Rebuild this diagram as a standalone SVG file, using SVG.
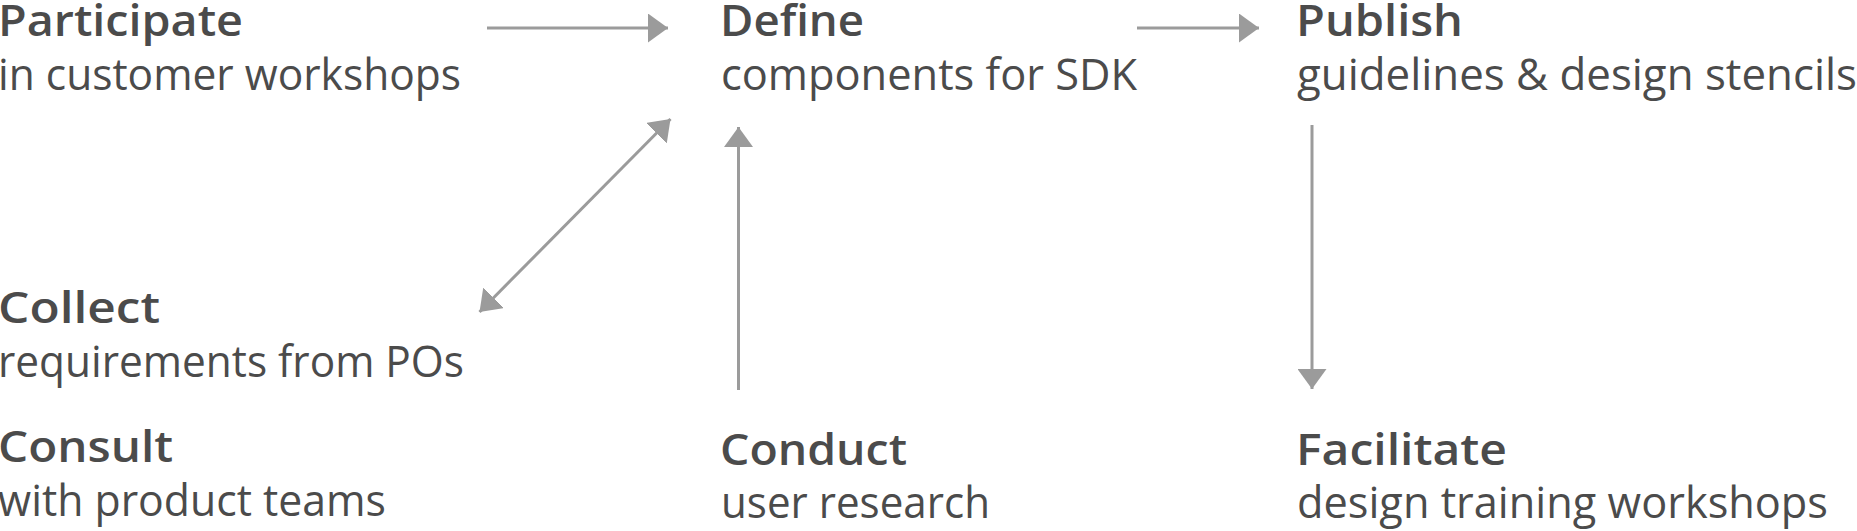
<svg xmlns="http://www.w3.org/2000/svg" width="1857" height="531" viewBox="0 0 1857 531">
<style>
.t{font-family:"Open Sans","Noto Sans","DejaVu Sans",sans-serif;fill:#4b4b4b}
.h{font-size:44px;font-weight:600}
.s{font-size:43px;font-weight:400}
.c{stroke:#9b9b9b;stroke-width:3;fill:none}
</style>
<defs>
<marker id="ah" markerUnits="userSpaceOnUse" markerWidth="20" markerHeight="29" refX="20" refY="14.5" orient="auto-start-reverse" viewBox="0 0 20 29">
<path d="M0,0 L20,14.5 L0,29 Z" fill="#9b9b9b"/>
</marker>
</defs>
<rect width="1857" height="531" fill="#ffffff"/>
<g id="connectors">
<line class="c" x1="487" y1="28" x2="668" y2="28" marker-end="url(#ah)"/>
<line class="c" x1="1137" y1="28" x2="1259" y2="28" marker-end="url(#ah)"/>
<line class="c" x1="479.5" y1="312" x2="670.5" y2="119" marker-start="url(#ah)" marker-end="url(#ah)"/>
<line class="c" x1="738.5" y1="390" x2="738.5" y2="127" marker-end="url(#ah)"/>
<line class="c" x1="1312" y1="125" x2="1312" y2="389" marker-end="url(#ah)"/>
</g>
<g id="participate">
<text class="t h" x="-2" y="36" textLength="245" lengthAdjust="spacingAndGlyphs">Participate</text>
<text class="t s" x="-2" y="90" textLength="463" lengthAdjust="spacingAndGlyphs">in customer workshops</text>
</g>
<g id="define">
<text class="t h" x="720" y="36" textLength="144" lengthAdjust="spacingAndGlyphs">Define</text>
<text class="t s" x="721" y="90" textLength="416" lengthAdjust="spacingAndGlyphs">components for SDK</text>
</g>
<g id="publish">
<text class="t h" x="1296" y="36" textLength="167" lengthAdjust="spacingAndGlyphs">Publish</text>
<text class="t s" x="1297" y="90" textLength="560" lengthAdjust="spacingAndGlyphs">guidelines &amp; design stencils</text>
</g>
<g id="collect">
<text class="t h" x="-2" y="323" textLength="162" lengthAdjust="spacingAndGlyphs">Collect</text>
<text class="t s" x="-2" y="377" textLength="466" lengthAdjust="spacingAndGlyphs">requirements from POs</text>
</g>
<g id="consult">
<text class="t h" x="-2" y="462" textLength="175" lengthAdjust="spacingAndGlyphs">Consult</text>
<text class="t s" x="-2" y="516" textLength="388" lengthAdjust="spacingAndGlyphs">with product teams</text>
</g>
<g id="conduct">
<text class="t h" x="720" y="465" textLength="187" lengthAdjust="spacingAndGlyphs">Conduct</text>
<text class="t s" x="721" y="518" textLength="269" lengthAdjust="spacingAndGlyphs">user research</text>
</g>
<g id="facilitate">
<text class="t h" x="1296" y="465" textLength="211" lengthAdjust="spacingAndGlyphs">Facilitate</text>
<text class="t s" x="1297" y="518" textLength="531" lengthAdjust="spacingAndGlyphs">design training workshops</text>
</g>
</svg>
